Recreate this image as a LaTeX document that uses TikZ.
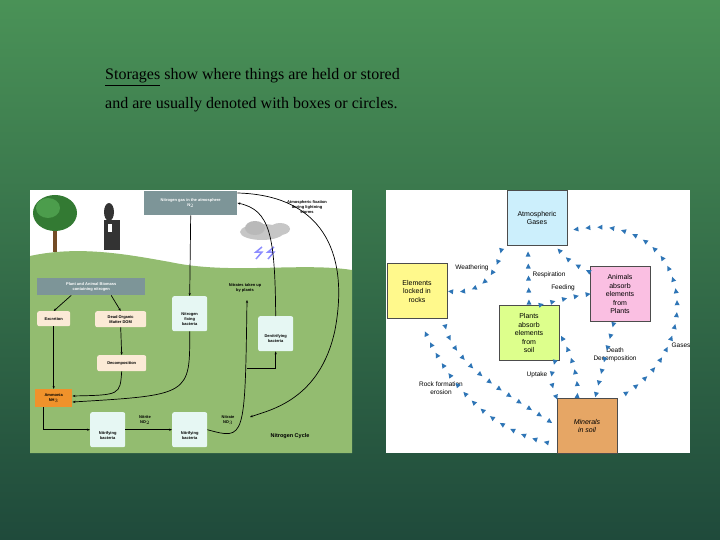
\documentclass[tikz,border=0pt]{standalone}
\usepackage{fontspec}
\setmainfont{Liberation Serif}
\newfontfamily\sfx{Liberation Sans}
\usetikzlibrary{arrows.meta,decorations.markings,shapes.geometric,calc}
\definecolor{bgtop}{HTML}{4A9257}
\definecolor{bgbot}{HTML}{1F4A3B}
\definecolor{dashblue}{HTML}{2E75B6}
\definecolor{ground}{HTML}{93BC70}
\definecolor{nbox}{HTML}{7D9598}
\definecolor{beige}{HTML}{FBEAD6}
\definecolor{bact}{HTML}{E6F7F3}
\definecolor{amm}{HTML}{F0922B}
\tikzset{
 tri/.style={draw=none,postaction={decorate},decoration={markings,
   mark=between positions 0.04 and 0.98 step 12pt with {\fill[dashblue] (2.5pt,0)--(-2.5pt,2.5pt)--(-2.5pt,-2.5pt)--cycle;}}},
 rbox/.style={draw=black!70,line width=0.6pt,minimum width=60pt,minimum height=55pt,align=center,font=\sfx\fontsize{7}{8.5}\selectfont,inner sep=1pt},
 rlab/.style={font=\sfx\fontsize{6.5}{8}\selectfont,align=center,inner sep=1pt},
 lt/.style={font=\sfx\bfseries\fontsize{4}{5}\selectfont,align=center,inner sep=1pt},
 gbox/.style={fill=nbox,text=white,lt,anchor=north west},
 bbox/.style={fill=beige,lt,rounded corners=2pt,anchor=north west},
 bac/.style={fill=bact,lt,rounded corners=2pt,anchor=north west,minimum width=35pt,minimum height=35pt,text depth=0pt},
 ln/.style={black,line width=0.7pt,-{Stealth[length=3pt]}}
}
\begin{document}
\begin{tikzpicture}[x=1pt,y=-1pt]
\useasboundingbox (0,0) rectangle (720,540);
\shade[top color=bgtop,bottom color=bgbot] (0,0) rectangle (720,540);
% title
\node[anchor=base west,inner sep=0,font=\fontsize{16}{18}\selectfont] (t1) at (105,80) {\underline{Storages} show where things are held or stored};
\node[anchor=base west,inner sep=0,font=\fontsize{16}{18}\selectfont] (t2) at (105,109) {and are usually denoted with boxes or circles.};
% ---------- left panel
\fill[white] (30,190) rectangle (352,453);
\fill[ground] (30,256) .. controls (80,245) and (130,255) .. (170,262) .. controls (230,275) and (300,262) .. (352,270) -- (352,453) -- (30,453) -- cycle;
% tree
\fill[brown!60!black] (53,222) rectangle (57,252);
\fill[green!35!black!80] (55,213) ellipse (22 and 18);
\fill[green!45!black!70] (48,208) ellipse (12 and 10);
% cow
\fill[black!80] (104,220) rectangle (120,250);
\fill[black!80] (109,212) ellipse (5 and 9);
\fill[white] (108,224) rectangle (112,232);
% cloud and lightning
\fill[gray!45] (262,232) ellipse (22 and 8);
\fill[gray!55] (255,228) ellipse (10 and 7);
\fill[gray!45] (280,229) ellipse (10 and 6);
\draw[blue!45,line width=1.5pt] (262,247)--(256,252)--(262,252)--(256,259);
\draw[blue!45,line width=1.5pt] (274,247)--(268,252)--(274,252)--(268,259);
% nodes
\node[gbox,minimum width=93pt,minimum height=24pt] (n2) at (144,191) {Nitrogen gas in the atmosphere\\N$_2$};
\node[gbox,minimum width=108pt,minimum height=17pt] (bio) at (37,278) {Plant and Animal Biomass\\containing nitrogen};
\node[bbox,minimum width=33pt,minimum height=15pt] (exc) at (37,311) {Excretion};
\node[bbox,minimum width=51pt,minimum height=16pt] (dom) at (95,311) {Dead Organic\\Matter DOM};
\node[bbox,minimum width=49pt,minimum height=16pt] (dec) at (97,355) {Decomposition};
\node[fill=amm,lt,anchor=north west,minimum width=37pt,minimum height=18pt] (nh3) at (35,389) {Ammonia\\NH$_3$};
\node[bac] (nfb) at (172,296) {\\[8pt]Nitrogen\\fixing\\bacteria};
\node[bac] (den) at (258,316) {\\[8pt]Denitrifying\\bacteria};
\node[bac] (nit1) at (90,412) {\\[10pt]Nitrifying\\bacteria};
\node[bac] (nit2) at (172,412) {\\[10pt]Nitrifying\\bacteria};
\node[lt] (atf) at (307,207) {Atmospheric fixation\\during lightning\\storms};
\node[lt] (upt) at (245,288) {Nitrates taken up\\by plants};
\node[lt] (nit) at (145,420) {Nitrite\\NO$_2$};
\node[lt] (nat) at (228,420) {Nitrate\\NO$_3$};
\node[font=\sfx\bfseries\fontsize{5.5}{6}\selectfont] (ncy) at (290,436) {Nitrogen Cycle};
\coordinate (upend) at (247,300);
\coordinate (jn) at (247,368);
% left connectors
\draw[ln] (bio.south) ++(-20,0) -- (exc.north);
\draw[ln] (bio.south) ++(20,0) -- (dom.north);
\draw[ln] (dom.south) -- (dec.north);
\draw[ln] (exc.south) -- (nh3.north);
\draw[ln] (dec.south) .. controls (120,395) .. (nh3.east |- 0,396);
\draw[ln] (nfb.south) .. controls (190,395) .. (nh3.east |- 0,402);
\draw[ln] (n2.south) -- (nfb.north);
\draw[ln] (nh3.south) ++(-10,0) |- (nit1.west);
\draw[ln] (nit1.east) -- (nit2.west);
\draw[ln] (nit2.east) .. controls (245,440) .. (upend);
\draw[ln] (jn) -| (den.south);
\draw[ln] (den.north) .. controls (275,235) and (270,210) .. (n2.east |- 0,203);
\draw[ln] (n2.east |- 0,193) .. controls (320,195) and (350,250) .. (335,330) .. controls (320,400) and (270,410) .. (250,417);
% ---------- right panel
\fill[white] (386,190) rectangle (690,453);
\node[rbox,fill=cyan!20] (atm) at (537,218) {Atmospheric\\Gases};
\node[rbox,fill=yellow!45] (rock) at (417,291) {Elements\\locked in\\rocks};
\node[rbox,fill=magenta!25] (ani) at (620,294) {Animals\\absorb\\elements\\from\\Plants};
\node[rbox,fill=green!30!yellow!45] (pla) at (529,333) {Plants\\absorb\\elements\\from\\soil};
\node[rbox,fill=brown!55!orange!70,font=\sfx\itshape\fontsize{7}{8.5}\selectfont] (min) at (587,426) {Minerals\\in soil};
\node[rlab] (lw) at (472,268) {Weathering};
\node[rlab] (lr) at (549,275) {Respiration};
\node[rlab] (lf) at (563,288) {Feeding};
\node[rlab] (lg) at (681,345) {Gases};
\node[rlab] (ld) at (615,355) {Death\\Decomposition};
\node[rlab] (lu) at (537,375) {Uptake};
\node[rlab] (le) at (441,388) {Rock formation\\erosion};
\path[tri] (atm.south west) ++(-5,2) .. controls (495,285) and (470,295) .. (rock.east);
\path[tri] (pla.north) ++(0,-1) -- (528,250);
\path[tri] (ani.west) ++(0,-22) .. controls (570,262) .. (557,248);
\path[tri] (pla.north east) ++(-20,0) .. controls (560,300) and (575,296) .. (ani.west);
\path[tri] (min.north east) .. controls (690,360) and (695,270) .. (640,238) .. controls (610,222) and (590,228) .. (570,230);
\path[tri] (ani.south) ++(-6,0) -- ($(min.north)+(8,0)$);
\path[tri] (min.north) ++(-10,0) .. controls (580,380) and (570,350) .. (pla.east);
\path[tri] (pla.south) ++(26,0) .. controls (550,380) .. (557,399);
\path[tri] (rock.south east) ++(-3,2) .. controls (450,365) and (510,395) .. (min.west);
\path[tri] (min.west) ++(-3,18) .. controls (480,430) and (440,370) .. (420,320);
\end{tikzpicture}
\end{document}
